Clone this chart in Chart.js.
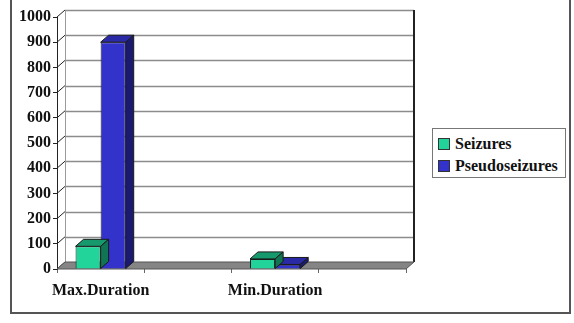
<!DOCTYPE html>
<html>
<head>
<meta charset="utf-8">
<script src="https://cdn.jsdelivr.net/npm/chart.js@4"></script>
<style>
  html, body { margin:0; padding:0; background:#fff; }
  #wrap { position:relative; width:574px; height:323px; overflow:hidden; }
  #frame { position:absolute; left:10px; top:-3px; width:561px; height:317px; box-sizing:border-box; border:2px solid #555; pointer-events:none; }
  #legend { position:absolute; left:432px; top:128px; width:134px; height:50px; box-sizing:border-box; border:1px solid #777; background:#fff;
            font-family:"Liberation Serif", serif; font-weight:bold; font-size:16px; color:#111; padding:4px 0 0 5px; }
  .item { height:22px; line-height:22px; white-space:nowrap; }
  .sw { display:inline-block; width:10px; height:10px; border:1px solid #333; margin-right:5px; vertical-align:-1px; }
</style>
</head>
<body>
<div id="wrap">
  <canvas id="c" width="574" height="323"></canvas>
  <div id="frame"></div>
  <div id="legend"></div>
</div>
<script>
// values
const categories = ["Max.Duration", "", "Min.Duration", ""];
const seizures = [90, null, 40, null];
const pseudoseizures = [900, null, 18, null];
const yMax = 1000;
const yStep = 100;

const seriesNames = ["Seizures", "Pseudoseizures"];
const front = ["#22d39a", "#3333cc"];
const topFace = ["#16996c", "#2a2aa6"];
const sideFace = ["#0f7552", "#1a1a70"];

const DX = 8, DY = 7;

function poly(ctx, pts, fill, stroke){
  ctx.beginPath();
  ctx.moveTo(pts[0][0], pts[0][1]);
  for (let i=1;i<pts.length;i++) ctx.lineTo(pts[i][0], pts[i][1]);
  ctx.closePath();
  if (fill){ ctx.fillStyle = fill; ctx.fill(); }
  if (stroke){ ctx.strokeStyle = stroke; ctx.lineWidth = 1; ctx.stroke(); }
}

// back wall, gridlines and floor in a fake 3D look
const wall3d = {
  id: "wall3d",
  beforeDatasetsDraw(chart){
    const {ctx, chartArea:a, scales:{y}} = chart;
    ctx.save();
    const topY = y.getPixelForValue(yMax) - DY;
    const floorY = a.bottom - DY;
    for (let v=yStep; v<=yMax; v+=yStep){
      const py = Math.round(y.getPixelForValue(v) - DY) + 0.5;
      ctx.strokeStyle = "#8c8c8c"; ctx.lineWidth = 1.5;
      ctx.beginPath(); ctx.moveTo(a.left+DX, py); ctx.lineTo(a.right+DX, py); ctx.stroke();
    }
    // left wall edge
    ctx.strokeStyle = "#9a9a9a"; ctx.lineWidth = 1;
    ctx.beginPath(); ctx.moveTo(a.left+DX+0.5, topY); ctx.lineTo(a.left+DX+0.5, floorY); ctx.stroke();
    // diagonal ticks
    ctx.strokeStyle = "#222"; ctx.lineWidth = 1;
    for (let v=0; v<=yMax; v+=yStep){
      const py = y.getPixelForValue(v);
      ctx.beginPath(); ctx.moveTo(a.left, py); ctx.lineTo(a.left+DX, py-DY); ctx.stroke();
    }
    // right wall edge
    ctx.strokeStyle = "#222"; ctx.lineWidth = 2;
    ctx.beginPath(); ctx.moveTo(a.right+DX, topY); ctx.lineTo(a.right+DX, floorY); ctx.stroke();
    // floor
    poly(ctx, [[a.left,a.bottom],[a.right,a.bottom],[a.right+DX,floorY],[a.left+DX,floorY]], "#858585", "#555");
    ctx.restore();
  },
  afterDatasetDraw(chart, args){
    const {ctx} = chart;
    const i = args.index;
    const meta = chart.getDatasetMeta(i);
    ctx.save();
    meta.data.forEach((bar, k)=>{
      if (chart.data.datasets[i].data[k] == null) return;
      const x0 = bar.x - bar.width/2, x1 = bar.x + bar.width/2;
      const t = bar.y, b = bar.base;
      poly(ctx, [[x0,t],[x1,t],[x1+DX,t-DY],[x0+DX,t-DY]], topFace[i], "#1a1a1a");
      poly(ctx, [[x1,t],[x1+DX,t-DY],[x1+DX,b-DY],[x1,b]], sideFace[i], "#1a1a1a");
    });
    ctx.restore();
  }
};

const serif = "'Liberation Serif', 'Times New Roman', serif";

new Chart(document.getElementById("c"), {
  type: "bar",
  data: {
    labels: categories,
    datasets: [
      { label: seriesNames[0], data: seizures, backgroundColor: front[0], borderColor: "#1a1a1a", borderWidth: 1 },
      { label: seriesNames[1], data: pseudoseizures, backgroundColor: front[1], borderColor: "#1a1a1a", borderWidth: 1 },
    ]
  },
  options: {
    responsive: false,
    animation: false,
    layout: { padding: { left: 10, right: 168, top: 17, bottom: 0 } },
    datasets: { bar: { categoryPercentage: 0.575, barPercentage: 1 } },
    plugins: { legend: { display: false }, tooltip: { enabled: false } },
    scales: {
      x: {
        afterFit(s){ s.height = 54; },
        grid: { drawOnChartArea: false, tickLength: 4, color: "#666" },
        border: { display: false },
        ticks: { autoSkip: false, maxRotation: 0, padding: 8, color: "#111", font: { family: serif, weight: "bold", size: 16 } }
      },
      y: {
        min: 0, max: yMax,
        afterFit(s){ s.width = 47; },
        grid: { drawOnChartArea: false, tickLength: 4, color: "#222" },
        border: { display: true, color: "#222", width: 1 },
        ticks: { stepSize: yStep, padding: 2, color: "#111", callback: v => String(v), font: { family: serif, weight: "bold", size: 16 } }
      }
    }
  },
  plugins: [wall3d]
});

// legend as html
const lg = document.getElementById("legend");
lg.innerHTML = seriesNames.map((n,i)=>`<div class="item"><span class="sw" style="background:${front[i]}"></span>${n}</div>`).join("");
</script>
</body>
</html>
